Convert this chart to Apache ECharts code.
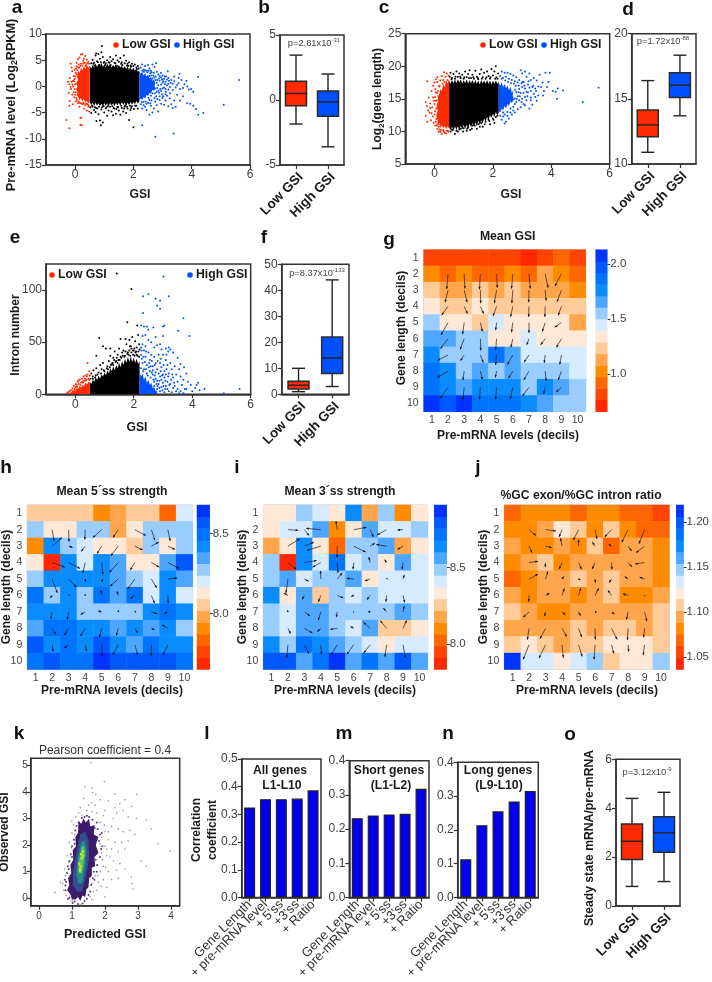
<!DOCTYPE html>
<html><head><meta charset="utf-8">
<style>html,body{margin:0;padding:0;background:#fff}#c{width:712px;height:982px}</style>
<script src="https://cdn.jsdelivr.net/npm/echarts@6/dist/echarts.min.js"></script></head>
<body><div id="c"></div>
<script>
// ---------- DATA ----------
const groups=['Low GSI','High GSI'];
const bLow=[-1.85,-0.45,0.5,1.45,3.45], bHigh=[-3.6,-1.25,-0.15,0.7,2.0];
const dLow=[10.9,12.1,13.0,14.15,16.4], dHigh=[13.7,15.1,16.05,17.0,18.35];
const fLow=[1,2,3.5,5,10], fHigh=[3,8,14,22,44];
const oLow=[0.8,1.9,2.65,3.35,4.4], oHigh=[1.0,2.2,3.0,3.65,4.65];
const models=['Gene Length','+ pre-mRNA level','+ 5\'ss','+3\'ss','+ Ratio'];
const lVals=[0.325,0.355,0.355,0.357,0.387];
const mVals=[0.232,0.24,0.243,0.245,0.318];
const nVals=[0.113,0.214,0.255,0.284,0.315];
const decils=['1','2','3','4','5','6','7','8','9','10'];
const palette=['#ff2800','#ff4400','#ff6600','#ff8c00','#ffa64d','#ffcb99','#ffe8d6','#d6ebff','#99ccff','#4da6ff','#0a8cff','#0073ff','#0059ff','#0033ff'];

// heatmap colour bins, rows = gene length decile, cols = pre-mRNA decile
const gCells=[[1,1,1,1,1,1,0,1,2,1],[3,2,3,2,2,3,2,4,3,2],[5,4,4,5,4,5,4,4,4,3],[6,5,5,6,5,5,5,5,5,5],[8,6,6,5,7,6,6,6,6,4],[9,9,8,8,6,6,7,6,6,6],[10,8,8,8,11,9,7,7,7,7],[11,10,8,9,8,9,8,8,8,7],[11,10,9,10,10,10,8,10,9,8],[13,12,13,11,11,11,10,9,8,8]];
const hCells=[[5,5,5,5,3,4,5,5,2,7],[8,6,6,8,8,4,6,8,8,8],[3,10,8,7,6,6,5,8,6,8],[6,0,10,7,10,9,6,6,9,12],[8,10,10,10,10,9,8,7,10,9],[11,8,10,8,11,9,11,7,10,7],[10,10,10,8,8,8,8,10,11,10],[9,11,11,10,10,9,10,9,10,8],[12,10,11,10,12,10,9,11,10,10],[11,12,11,11,13,12,12,12,12,11]];
const iCells=[[6,6,8,7,6,10,4,8,3,6],[6,7,7,9,3,6,9,7,7,8],[4,6,10,6,2,8,8,9,4,6],[8,0,10,7,11,7,8,6,9,7],[8,9,7,8,8,9,6,7,7,7],[10,6,9,5,8,7,8,7,7,7],[8,7,9,9,8,8,8,8,9,8],[8,7,9,9,8,7,9,5,5,6],[10,8,11,10,9,8,7,6,7,7],[12,12,9,11,13,9,11,9,12,9]];
const jCells=[[2,3,3,3,2,3,3,2,2,1],[3,3,4,6,5,3,5,3,2,2],[4,3,3,4,3,5,2,4,4,3],[3,4,5,3,4,4,4,4,4,3],[2,3,4,4,5,4,5,4,4,3],[4,3,4,4,3,4,5,3,3,4],[5,4,3,3,4,4,4,4,4,5],[4,4,4,4,5,4,5,5,4,5],[5,6,5,4,5,5,6,6,6,5],[13,7,7,6,7,8,5,6,6,8]];

// arrows: rows 2-9, cols 2-9, [dx,dy] in cell units from the cell centre
const gArrows=[
[-.08,.93,.04,.9,-.06,.95,.04,.85,-.08,.9,.08,.9,.18,.85,-.4,.75],
[-.18,.75,.18,.75,.02,.8,-.14,.8,-.06,.8,-.02,.75,.06,.65,-.27,.72],
[-.4,.55,.2,.45,.2,.45,-.22,.6,-.14,.65,-.02,.65,-.02,.65,-.2,.55],
[-.43,.76,-.1,.72,.12,.55,-.06,.47,-.08,.6,0,.64,-.18,.55,-.41,.29],
[-.47,.62,-.25,.66,.02,.72,-.06,.7,-.12,.53,-.14,.37,-.29,.37,-.31,.53],
[-.64,.33,-.23,.35,.18,.47,-.06,.62,-.33,.58,-.31,.45,-.06,.49,-.1,.58],
[-.66,.39,-.08,.55,.12,.51,-.08,.39,-.27,.43,-.33,.55,.06,.6,-.2,.55],
[-.49,.68,-.08,.78,-.06,.74,-.06,.74,-.16,.72,-.41,.53,-.1,.41,-.33,.29]];
const hArrows=[
[.12,.69,.02,.73,-.02,.6,-.54,.48,-.32,.48,.67,.36,.22,.65,.14,.69],
[.6,-.52,.24,.08,-.24,.32,-.28,.46,-.46,.6,.48,.24,.44,-.24,.42,.2],
[.77,.28,.69,.36,-.14,.65,.06,.73,-.54,.6,-.28,.46,.48,.28,.69,.36],
[.32,.85,.48,.5,.02,.18,.06,.2,-.5,.44,-.44,.62,.32,.54,.56,-.06],
[-.12,.16,.04,-.04,0,-.08,-.06,-.34,-.08,-.26,-.28,.18,.2,.48,.02,.48],
[-.08,.44,-.08,.48,-.28,.16,-.22,-.06,.02,-.1,.08,-.02,.36,.12,-.22,.1],
[.22,.36,-.26,.42,-.3,.48,-.14,.56,-.12,.44,.18,.28,.2,.08,-.36,-.22],
[.06,.4,-.28,.2,.08,.4,.02,.67,-.34,.62,.18,.62,-.02,.67,-.3,.62]];
const iArrows=[
[.63,.04,.28,.36,-.89,-.08,-.08,-.53,.77,-.14,.2,.45,-.57,.32,-.34,.02],
[.73,-.45,.57,-.24,-.85,.26,-.02,.69,.73,.36,.28,-.18,-.63,-.1,-.34,.2],
[.51,.41,.75,-.12,-.51,.28,.04,.63,-.04,.41,-.08,-.34,-.12,-.18,-.06,.41],
[-.12,.85,.26,.14,-.02,-.5,.3,-.37,-.43,-.04,-.32,.12,.04,-.04,.08,-.26],
[-.24,-.14,-.14,.24,-.16,.39,.37,.16,-.16,.06,-.2,.26,-.04,.39,.1,.43],
[-.04,-.1,.34,.24,-.16,.51,-.06,.32,-.04,.02,-.14,-.02,-.2,-.24,.08,-.37],
[.16,.32,.49,.28,-.22,.2,-.43,.06,-.2,-.12,-.41,-.37,-.39,-.47,.22,-.49],
[-.08,.79,.28,.55,.04,.59,-.39,.63,-.43,.59,-.39,.49,-.1,.73,.14,.79]];
const jArrows=[
[.42,.36,.63,.08,-.18,.44,-.32,.65,.12,.57,-.42,.44,-.38,.77,-.34,.85],
[.18,.4,.38,.1,-.1,-.48,0,-.4,-.16,-.24,-.18,-.12,.22,.3,-.52,.4],
[.55,-.08,-.02,.28,-.18,.4,.18,.4,-.18,.4,.02,.42,.24,.26,-.57,.08],
[.55,-.3,.14,-.46,.1,-.16,.12,.04,.02,.22,-.14,.22,-.2,-.16,-.3,-.12],
[-.02,.38,.24,-.14,.14,-.42,.14,-.46,.22,-.44,-.22,-.32,-.32,-.1,.02,.04],
[-.36,.32,-.06,.26,.2,.18,.12,.24,.1,.02,.18,.14,-.1,.48,.14,.57],
[-.1,.69,-.34,.63,.28,.5,.2,.53,.02,.67,.34,.67,-.04,.71,-.06,.55],
[-.36,.89,-.4,.81,.08,.79,.22,.71,-.06,.89,.14,.53,.04,.42,-.08,.63]];

// scatter a: dense cores (outlines) and individually read sparse points
const aRedCore=[[.5,4],[.45,3.5],[.4,4.1],[.35,3.3],[.3,3.9],[.25,3.1],[.2,3.5],[.15,2.6],[.1,2.9],[.06,1.8],[.1,1.2],[.03,.6],[.08,0],[.03,-.6],[.09,-1.1],[.05,-1.7],[.12,-2.1],[.15,-2.7],[.2,-2.2],[.25,-2.9],[.3,-2.5],[.35,-3.1],[.4,-2.7],[.45,-3.3],[.5,-2.9]];
const aBlackCore=[[.5,3.9],[.55,3.4],[.6,4.1],[.65,3.6],[.7,4.4],[.75,3.7],[.8,4.3],[.85,3.8],[.9,4.5],[.95,3.7],[1,4.2],[1.05,3.6],[1.1,4.4],[1.15,3.8],[1.2,4.3],[1.25,3.6],[1.3,4.1],[1.35,3.7],[1.4,4.3],[1.45,3.5],[1.5,4.1],[1.55,3.6],[1.6,4],[1.65,3.4],[1.7,3.9],[1.75,3.3],[1.8,3.8],[1.85,3.2],[1.9,3.7],[1.95,3.1],[2,3.6],[2.05,3],[2.1,3.4],[2.15,2.8],[2.2,3.1],[2.2,-2.9],[2.15,-3.3],[2.1,-2.8],[2.05,-3.4],[2,-3],[1.95,-3.5],[1.9,-3],[1.85,-3.6],[1.8,-3.1],[1.75,-3.7],[1.7,-3.1],[1.65,-3.5],[1.6,-3],[1.55,-3.7],[1.5,-3.1],[1.45,-3.6],[1.4,-3.1],[1.35,-3.8],[1.3,-3.2],[1.25,-3.7],[1.2,-3.1],[1.15,-3.9],[1.1,-3.2],[1.05,-3.7],[1,-3.2],[.95,-3.9],[.9,-3.3],[.85,-3.8],[.8,-3.2],[.75,-3.7],[.7,-3.1],[.65,-3.8],[.6,-3.1],[.55,-3.6],[.5,-3]];
const aBlueCore=[[2.2,2.9],[2.25,2.4],[2.3,2.8],[2.35,2.1],[2.4,2.5],[2.45,1.9],[2.5,2.2],[2.55,1.6],[2.6,1.8],[2.65,1.1],[2.7,1.3],[2.75,.6],[2.72,.1],[2.78,-.4],[2.7,-.8],[2.65,-.7],[2.6,-1.4],[2.55,-1.2],[2.5,-1.9],[2.45,-1.6],[2.4,-2.3],[2.35,-2],[2.3,-2.6],[2.25,-2.3],[2.2,-2.8]];
const aRed=[[.05,4.5],[.1,5.2],[.15,5.5],[.2,6.1],[.25,6.2],[.3,5.3],[.35,5.8],[.28,4.9],[.4,5.1],[.42,4.4],[.12,4.2],[.05,3.8],[-.15,4.3],[-.12,3.6],[-.1,2.9],[-.02,3.2],[.02,2.6],[-.18,1.6],[-.25,.9],[-.2,.4],[-.14,-.5],[-.22,-1.2],[-.07,1.1],[-.1,-1.6],[-.03,-2.1],[.02,-2.9],[-.19,-2.8],[-.2,-3.7],[-.08,-3.4],[.1,-3.2],[.15,-3.9],[.25,-3.4],[.3,-4.2],[.35,-3.6],[.4,-4.6],[.18,-6],[.2,-6],[.18,-7.3],[.23,-7.4],[-.3,-6.4],[-.2,-8],[.45,-3.9],[.48,-4.8],[-.05,2],[-.03,1],[-.06,0],[-.02,-.5],[-.05,-1.1],[0,1.9],[0,-1.6],[.03,3.4],[.08,3.1],[.14,3.6],[.2,4.3],[.25,4],[.33,4.5],[.38,4.1],[.45,4.7],[.06,-2.6],[.12,-2.9],[.2,-3.2],[.3,-3.3],[.42,-3.4],[-.12,.9],[-.16,-.1],[-.09,.3],[0,.4],[-.02,1.4],[.02,-1.1],[.04,-2.2],[.05,2.3],[.1,3.6],[.18,3.9],[.28,4.4],[.36,3.9],[.48,4.3],[.16,-3.1],[.28,-3.1],[.38,-3.3],[.46,-3.6]];
const aBlack=[[.55,4.4],[.6,5.1],[.65,4.5],[.7,5.9],[.72,6.3],[.75,4.8],[.8,6.2],[.85,5.3],[.88,4.6],[.92,7.7],[.95,5.6],[.9,6.5],[1,4.7],[1.05,4.4],[1.1,5],[1.15,4.6],[1.2,5.6],[1.25,4.8],[1.3,5.2],[1.35,4.5],[1.4,5.9],[1.45,5],[1.5,4.7],[1.55,5.4],[1.6,4.6],[1.67,5.9],[1.7,4.4],[1.75,4.9],[1.8,4.3],[1.85,4.6],[1.9,4],[1.95,4.3],[2,3.9],[2.05,4.2],[2.1,3.6],[2.15,3.9],[.52,-4],[.55,-5.1],[.6,-3.9],[.65,-4.5],[.7,-4.9],[.73,-6.6],[.76,-4.2],[.8,-5.3],[.85,-6.5],[.88,-7.4],[.9,-4.4],[.95,-6.9],[1,-5],[1.05,-4.2],[1.1,-5.6],[1.15,-4.6],[1.2,-3.9],[1.25,-4.8],[1.3,-5.5],[1.35,-4.2],[1.4,-5.2],[1.45,-3.9],[1.5,-4.6],[1.55,-5.4],[1.6,-4.1],[1.65,-4.8],[1.7,-3.9],[1.75,-5.1],[1.8,-4.2],[1.85,-6.4],[1.9,-4.5],[1.95,-3.8],[2,-7.8],[2.02,-4.3],[2.1,-3.7],[2.15,-4.2],[.58,-3.7],[.68,-4],[.82,-3.9],[.98,-3.8],[1.12,-3.8],[1.28,-3.8],[1.42,-4.3],[1.58,-3.7],[1.72,-3.6],[1.88,-3.7],[.62,4.3],[.78,4.6],[.98,4.5],[1.18,4.5],[1.38,4.4],[1.58,4.3],[1.78,4],[1.92,3.8],[2.12,3.3],[2.18,3.4],[.66,4],[.83,4.1],[1.03,4.1],[1.22,4.1],[1.44,3.9],[1.62,4.1],[1.82,3.9],[.72,-4.1],[.92,-4],[1.08,-4],[1.32,-4.1],[1.48,-4],[1.68,-4.2],[1.78,-3.9],[1.92,-4.1],[2.06,-3.7]];
const aBlue=[[2.25,3.6],[2.3,4.2],[2.35,3.2],[2.4,3.9],[2.45,3],[2.5,4.1],[2.55,3.4],[2.6,3],[2.65,4.2],[2.72,3.7],[2.78,4.4],[2.7,2.6],[2.8,2.8],[2.85,2.3],[2.9,2],[2.95,1.7],[3,2.1],[3.05,1.4],[3.18,2.9],[3.2,1.6],[3.1,.9],[3.15,.2],[3,.7],[2.9,1.1],[2.95,.3],[3.05,-.2],[3.2,-.6],[3.3,1.2],[3.35,.5],[3.4,1.9],[3.45,-.2],[3.58,2.4],[3.55,.6],[3.65,1.2],[3.7,-.3],[3.75,.4],[3.82,1.1],[3.9,-.6],[3.98,-.5],[3.85,0],[4.22,1.8],[4.05,-1],[2.25,-3.4],[2.3,-4.2],[2.35,-3],[2.4,-3.9],[2.45,-4.5],[2.5,-3.1],[2.55,-5.4],[2.6,-3.7],[2.65,-5],[2.7,-4.2],[2.75,-2.9],[2.8,-3.6],[2.85,-4.8],[2.9,-2.6],[2.95,-3.3],[3,-2.2],[3.05,-3.5],[3.1,-2.7],[3.15,-1.8],[3.2,-3.8],[3.25,-2.3],[3.3,-3.4],[3.35,-4.1],[3.4,-2.7],[3.45,-3.9],[3.5,-1.6],[3.6,-2.7],[3.7,-1.9],[3.85,-3.2],[3.95,-3.3],[4.05,-3.7],[4.15,-4.3],[4.22,-5.4],[4.4,-5.1],[5.1,-3.5],[5.62,1.2],[2.3,-7.4],[2.75,-9.6],[3.38,-9],[2.88,-1.2],[2.92,-.5],[2.98,-1.5],[3.02,1],[3.08,.4],[2.88,1.5],[2.78,-1.9],[2.82,-2.4],[2.72,-2.2],[2.62,-2.7],[2.55,-2.6],[2.42,-2.9],[2.48,2.7],[2.58,2.5],[2.68,2.1],[2.76,1.9],[3.12,-1],[3.25,-.1],[3.28,.7],[3.12,1.9],[2.3,3],[2.36,2.8],[2.8,.7],[2.82,1.2],[2.85,.2],[2.82,-.3],[2.86,-.8],[2.8,-1],[2.74,-1.3],[2.76,1.2],[2.72,1.7],[2.65,1.5],[2.62,2.1],[2.55,2],[2.65,-1.3],[2.6,-1.8],[2.52,-2.2],[2.95,-.9],[3,-.4],[3.1,-.5],[3.02,-1.9],[3.2,.5],[3.22,1.1],[2.98,1.3],[3.08,1.9],[3.15,1.3],[2.94,2.6],[2.9,-1.9],[3.1,-1.5],[3.25,-1.3],[3.35,-.7],[3.4,1],[3.5,.2],[3.6,-.5],[3.55,1.6],[2.45,-3.3],[2.58,-3.2],[2.35,-3.6],[2.28,-3],[2.4,3.1],[2.52,3],[2.62,2.7]];

const cRedCore=[[.5,18],[.45,17.4],[.4,17.8],[.35,16.8],[.3,17.2],[.25,16.2],[.2,16.5],[.15,15.5],[.1,15.6],[.13,14.7],[.07,14],[.11,13.2],[.06,12.5],[.1,11.8],[.12,11],[.17,11.3],[.2,10.5],[.25,11],[.3,10.4],[.35,10.9],[.4,10.3],[.45,10.8],[.5,10.4]];
const cBlackCore=[[.5,17.8],[.55,17.3],[.6,17.9],[.65,17.4],[.7,18],[.75,17.4],[.8,18],[.85,17.5],[.9,18],[.95,17.3],[1,17.9],[1.05,17.4],[1.1,18],[1.15,17.3],[1.2,17.9],[1.25,17.4],[1.3,17.9],[1.35,17.3],[1.4,17.9],[1.45,17.3],[1.5,17.8],[1.55,17.2],[1.6,17.9],[1.65,17.4],[1.7,17.8],[1.75,17.3],[1.8,17.9],[1.85,17.3],[1.9,17.8],[1.95,17.2],[2,17.8],[2.05,17.3],[2.1,17.8],[2.15,17.3],[2.2,17.6],[2.2,12.9],[2.15,12.5],[2.1,13],[2.05,12.2],[2,12.7],[1.95,12.1],[1.9,12.5],[1.85,11.7],[1.8,12.2],[1.75,11.5],[1.7,12],[1.65,11.2],[1.6,11.7],[1.55,11],[1.5,11.6],[1.45,10.8],[1.4,11.4],[1.35,10.7],[1.3,11.3],[1.25,10.6],[1.2,11.2],[1.15,10.4],[1.1,11],[1.05,10.4],[1,11],[.95,10.3],[.9,10.9],[.85,10.2],[.8,10.8],[.75,10.2],[.7,10.8],[.65,10.1],[.6,10.7],[.55,10.2],[.5,10.6]];
const cBlueCore=[[2.2,17.5],[2.25,17],[2.3,17.5],[2.35,16.8],[2.4,17.3],[2.45,16.6],[2.5,17.1],[2.55,16.3],[2.6,16.9],[2.65,15.9],[2.7,16.4],[2.68,15.5],[2.72,14.9],[2.65,14.4],[2.6,14.6],[2.55,13.9],[2.5,14.2],[2.45,13.5],[2.4,13.9],[2.35,13.2],[2.3,13.5],[2.25,12.9],[2.2,13.1]];
const cRed=[[-.25,17.7],[-.1,16.2],[-.05,17],[0,17.5],[.03,16.5],[.05,18],[.1,17.6],[.1,18.3],[.15,16.9],[.2,17.8],[.25,18.5],[.3,17.9],[.33,19.1],[.38,18.4],[.42,18.9],[.45,17.9],[.48,18.6],[-.3,14.5],[-.25,13.9],[-.22,13.2],[-.2,15.2],[-.17,12.9],[-.15,14.3],[-.12,11.7],[-.1,12.8],[-.08,13.7],[-.05,15.2],[-.03,11.3],[0,12.6],[0,14.2],[.02,15.3],[.03,10.9],[.06,11.9],[.06,13.5],[.08,15.9],[.1,10.4],[.12,11.1],[.14,10],[.18,10.3],[.2,9.9],[.25,9.6],[.3,10.2],[.35,9.8],[.4,9.7],[.45,10.1],[.05,14.7],[-.15,13.6],[-.3,12.4],[-.25,11.5],[.04,16],[.08,14.8],[.02,13.1],[-.02,14.7],[-.06,12.3],[.12,16.2],[.18,17],[.28,17.3],[.35,17.6],[.04,11.5],[.08,10.9],[.15,10.7],[.22,10.2],[.32,10],[.42,10.1],[.48,10]];
const cBlack=[[.52,18.4],[.55,19],[.6,18.2],[.65,18.8],[.7,18.1],[.75,19.2],[.8,18.4],[.85,18.9],[.9,18.2],[.95,18.7],[1,18.1],[1.05,19.2],[1.1,18.3],[1.15,18.8],[1.2,19.4],[1.25,18.2],[1.3,18.7],[1.35,18.1],[1.4,19.3],[1.45,18.4],[1.5,18],[1.55,18.8],[1.6,19.5],[1.65,18.3],[1.7,19],[1.75,18.1],[1.8,19.2],[1.85,18.5],[1.9,18.1],[1.95,19.6],[2,18.6],[2.05,19.2],[2.1,20],[2.12,18.3],[2.18,18.9],[.55,10],[.62,10.2],[.7,9.6],[.75,10.1],[.85,10.3],[.9,10.4],[1,10.5],[1.1,10.1],[1.15,10.6],[1.22,10.2],[1.3,10.9],[1.45,10.4],[1.5,11.1],[1.6,11.3],[1.65,10.7],[1.75,11.5],[1.85,11.8],[1.9,11.1],[2,12],[2.05,11.3],[2.1,12.2],[2.15,12.4],[.58,18],[.72,18.4],[.88,18.4],[1.02,18.3],[1.18,18.2],[1.33,18.3],[1.48,18.2],[1.62,18.1],[1.78,18.3],[1.92,18.3],[2.08,18.1],[2.16,18.1],[.6,10.3],[.8,10],[.98,10],[1.12,10.4],[1.28,10.4],[1.38,10.9],[1.55,10.7],[1.72,11.1],[1.88,11.6],[2.02,11.8]];
const cBlue=[[2.25,18.5],[2.3,19.2],[2.35,18.2],[2.4,19],[2.45,18.4],[2.5,19],[2.55,18.1],[2.6,18.8],[2.65,17.9],[2.7,18.6],[2.75,17.7],[2.8,18.3],[2.85,17.5],[2.9,17.9],[2.95,19.4],[3,18.9],[3.05,17.6],[3.1,19.2],[3.15,18.4],[3.2,17.2],[3.25,18.9],[3.3,17.9],[3.35,16.8],[3.4,18.2],[3.45,16.6],[3.5,17.8],[3.55,16.9],[3.6,18.7],[3.7,17.5],[3.75,16.2],[3.8,19],[3.85,16.8],[3.9,17.6],[3.95,19],[4.05,16.2],[4.15,16.1],[4.2,15],[4.22,16.6],[4.4,16.3],[5.08,14.5],[5.62,16.7],[2.25,12.4],[2.3,11.8],[2.35,12.9],[2.4,11.2],[2.45,11.5],[2.5,13],[2.55,12],[2.6,13.5],[2.65,12.6],[2.7,13.8],[2.75,12.9],[2.8,14.5],[2.85,13.4],[2.9,14.8],[2.95,13.7],[3,15],[3.05,14.2],[3.1,15.3],[3.15,14.8],[3.2,16],[3.25,13.5],[3.3,15.2],[3.35,14.1],[3.4,15.8],[3.5,14.7],[3.55,15.5],[2.75,15],[2.8,16],[2.85,15.4],[2.9,16.5],[2.95,15.9],[3,16.8],[3.05,15.9],[3.1,16.6],[3.15,16.1],[3.25,16.7],[3.3,16.2],[2.78,17],[2.88,17],[2.98,17.4],[3.45,15.3],[3.65,16.8],[3.72,15.5],[2.76,16.4],[2.82,15],[2.75,14.2],[2.88,16],[2.92,15.4],[2.72,17.3],[2.62,17.4],[2.52,17.6],[2.42,17.8],[2.3,18.1],[2.7,13.2],[2.6,12.9],[2.5,12.4],[2.4,12.6],[2.35,12.3],[2.98,14.5],[3.1,14],[3.18,15.4],[3.3,14.8],[3.02,17.6],[3.08,17],[3.22,17.7],[3.38,17],[3.48,16.2]];

const eRedCore=[[-.3,.8],[-.2,1],[-.15,2],[-.1,2],[-.05,4],[0,3.5],[.05,6],[.1,5],[.15,8],[.2,6.5],[.25,9],[.3,8],[.35,11],[.4,9.5],[.45,12],[.5,11],[.5,0],[-.3,0]];
const eBlackCore=[[.5,12],[.55,10],[.6,14],[.65,12],[.7,16],[.75,14],[.8,18],[.85,15],[.9,19],[.95,17],[1,21],[1.05,18],[1.1,23],[1.15,20],[1.2,25],[1.25,22],[1.3,27],[1.35,23],[1.4,28],[1.45,25],[1.5,30],[1.55,26],[1.6,32],[1.65,28],[1.7,34],[1.75,30],[1.8,36],[1.85,31],[1.9,36],[1.95,31],[2,35],[2.05,30],[2.1,34],[2.15,29],[2.2,32],[2.2,0],[.5,0]];
const eBlueCore=[[2.2,22],[2.25,17],[2.3,20],[2.35,14],[2.4,17],[2.45,11],[2.5,14],[2.55,9],[2.6,11],[2.65,6],[2.7,7],[2.75,3],[2.8,4],[2.8,0],[2.2,0]];
const eRed=[[-.2,3],[-.15,4],[-.1,5.5],[-.05,8],[0,7],[.02,10],[.05,9],[.08,12],[.1,13],[.12,10],[.15,14],[.2,11],[.23,15],[.25,12],[.28,17],[.3,13],[.33,15],[.35,18],[.38,14],[.4,17],[.42,30],[.42,19],[.45,15],[.48,22],[.5,18],[-.25,2],[-.28,1],[.18,9],[.27,11],[.37,13],[.47,14],[.06,7],[-.02,5],[-.08,3]];
const eBlack=[[.52,15],[.55,20],[.6,17],[.62,23],[.7,18],[.72,25],[.8,21],[.85,28],[.9,24],[.95,30],[.72,37],[.82,54],[.95,46],[1,22],[1.05,44],[1.1,27],[1.15,32],[1.2,37],[1.2,44],[1.25,29],[1.3,35],[1.35,41],[1.4,32],[1.45,38],[1.5,44],[1.55,36],[1.6,40],[1.65,42],[1.7,37],[1.75,48],[1.8,40],[1.85,42],[1.85,52],[1.9,46],[1.95,55],[2,42],[2.05,51],[2.1,45],[2.15,57],[2.18,48],[1.42,116],[1.92,101],[1.78,69],[2.12,66],[1.55,53],[1.72,53],[1.82,38],[1.98,38],[2.1,38],[1.3,28],[1.45,30],[.6,15],[.68,16],[.76,19],[.88,20],[.98,23],[1.08,25],[1.18,26],[1.28,30],[1.38,31],[1.48,33],[1.58,35],[1.68,36],[1.78,39],[1.88,37],[1.92,40],[1.97,42],[2.03,37],[2.08,41],[2.13,37],[2.18,36],[2.16,41],[2.02,44],[1.72,41],[1.62,37],[1.52,33],[1.42,35],[1.12,24],[1.22,28],[1.33,33],[1.92,44],[2.06,40],[1.87,46],[2.2,43]];
const eBlue=[[2.25,66],[2.35,65],[2.45,65],[2.67,64],[2.3,56],[2.4,57],[2.5,62],[2.3,48],[2.4,46],[2.5,52],[2.6,50],[2.7,45],[2.75,55],[2.8,47],[2.9,48],[3,56],[3.05,66],[3,65],[2.95,43],[3.1,44],[3.2,45],[3.25,43],[3.35,40],[3.5,35],[3.52,61],[3.7,73],[3.9,56],[3.72,26],[3.6,29],[2.32,94],[2.5,96],[2.75,92],[2.9,90],[3.02,113],[3.2,94],[2.32,78],[2.8,85],[2.9,82],[2.25,45],[2.25,38],[2.3,30],[2.35,42],[2.4,36],[2.45,28],[2.5,40],[2.55,33],[2.6,38],[2.65,27],[2.7,36],[2.75,30],[2.8,24],[2.85,38],[2.9,30],[2.95,26],[3,38],[3.05,22],[3.1,33],[3.15,28],[3.2,20],[3.25,30],[3.3,24],[3.35,16],[3.4,27],[3.45,19],[3.5,12],[3.55,24],[3.6,17],[3.65,9],[3.7,14],[3.75,5],[3.8,20],[3.85,12],[3.95,9],[4,3],[4.1,6],[4.2,11],[4.15,9],[4.25,4],[4.42,5],[5.08,1],[5.62,5],[2.35,24],[2.45,20],[2.55,22],[2.65,19],[2.75,15],[2.85,20],[2.95,14],[3.05,16],[3.15,12],[3.25,10],[3.35,6],[3.45,3],[2.7,8],[2.8,5],[2.85,10],[2.9,3],[2.95,7],[3,11],[3.05,2],[3.1,8],[3.15,5],[3.2,3],[3.3,2],[3.4,8],[3.5,5],[3.6,3],[3.7,1],[3.55,1],[3.8,5],[2.7,12],[2.8,13],[3,19],[2.9,17],[3.1,19],[2.65,23],[2.75,21],[2.58,27],[2.52,26],[2.25,25],[2.28,34],[2.32,22],[2.38,31],[2.42,24],[2.48,18],[2.53,30],[2.58,16],[2.62,21],[2.68,14],[2.72,18],[2.78,10],[2.82,8],[2.88,13],[2.92,22],[2.97,18],[3.02,8],[3.08,13],[3.12,24],[3.18,17],[3.22,9],[3.28,14],[3.32,19],[3.38,11],[2.88,6],[2.98,4],[3.08,5],[2.72,28],[2.82,32],[2.62,32],[2.92,34],[3.02,28],[3.12,38],[3.18,41],[2.42,41],[2.27,42],[2.33,36]];

// k: density contours and sparse points (predicted, observed)
const kOuter=[[1.1,-.05],[1.18,.05],[1.25,-.1],[1.32,.1],[1.4,.05],[1.44,.35],[1.5,.4],[1.52,.75],[1.6,.85],[1.6,1.15],[1.7,1.2],[1.68,1.55],[1.8,1.7],[1.72,2],[1.8,2.3],[1.66,2.4],[1.68,2.75],[1.55,2.7],[1.52,3],[1.42,2.85],[1.35,3],[1.28,2.8],[1.2,2.9],[1.18,2.45],[1.1,2.3],[1.12,1.95],[1.02,1.8],[1.04,1.45],[.95,1.25],[.98,.95],[.88,.75],[.92,.5],[.85,.3],[.95,.15],[1,-.05]];
const kMid=[[1.15,.25],[1.3,.25],[1.42,.8],[1.52,1.5],[1.5,2.2],[1.4,2.5],[1.25,2.4],[1.13,1.7],[1.03,1],[1.03,.5]];
const kTeal=[[1.2,.55],[1.3,.55],[1.4,1.2],[1.44,1.8],[1.38,2.15],[1.28,2.1],[1.18,1.5],[1.13,.9]];
const kGreen=[[1.23,.95],[1.3,.95],[1.38,1.6],[1.38,1.95],[1.3,1.95],[1.22,1.45],[1.19,1.1]];
const kPeak=[[1.25,1.1],[1.22,1.3],[1.3,1.5],[1.33,1.75],[1.28,1.65],[1.26,1.2],[1.24,1.02],[1.34,1.6]];
const kSparse=[[1.57,5.1],[1.98,4.39],[1.39,4.2],[1.6,4.14],[1.62,3.97],[2.3,3.92],[2.96,3.91],[1.85,3.7],[2.1,3.65],[2.6,3.7],[2.45,3.55],[2.8,3.45],[2.3,3.4],[2.55,3.3],[2,3.3],[1.7,3.5],[1.5,3.5],[1.25,3.4],[1.2,3.2],[1,2.9],[1.05,2.75],[1.95,3.1],[2.25,3],[2.35,3.2],[2.7,3.05],[2.95,3],[3.25,2.95],[3.4,2.6],[3.6,2.05],[3.97,1.78],[3.1,1.4],[3.25,1.2],[2.9,2.4],[2.75,2.55],[2.55,2.5],[2.4,2.6],[2.2,2.7],[2,2.5],[1.9,2.3],[2.1,2.2],[2.3,2.1],[2.5,2.1],[2.7,2.15],[2.6,1.85],[2.4,1.75],[2.2,1.85],[2.05,1.6],[2,1.95],[1.9,1.7],[2.25,1.4],[2.45,1.3],[2.35,1.05],[2.6,1.1],[2.1,1],[1.95,1.2],[1.85,1],[2.2,.7],[1.95,.7],[1.8,.6],[1.75,.3],[2.05,.4],[2.8,.8],[2.82,.55],[2.85,.35],[2.4,.75],[2,.05],[1.6,-.05],[1.4,-.3],[1.25,-.25],[1,-.1],[.75,.3],[.65,.6],[.48,.22],[.8,.85],[.9,1.35],[.98,1.9],[1.08,2.4],[1.72,2.6],[1.85,2.05],[1.7,.85],[1.6,.55],[1.45,3.3],[1.6,3.25],[1.75,3.2],[1.3,3.1],[1.85,2.85],[1.98,2.75],[2.1,2.5],[2.05,1.85],[2.15,1.55],[1.92,1.45],[2.02,1.15],[1.78,.85],[1.88,.45],[1.65,.25],[1.55,.05],[1.15,-.3],[.82,.1],[.72,.55],[.78,1.1],[.85,1.6],[.92,2.1],[1,2.45],[1.12,3.05],[1.6,3.6],[1.35,3.75],[1.72,3.9]];
const kEdge=[[1.55,.85],[1.72,1.45],[1.85,1.55],[1.82,2.15],[1.68,2.65],[1.52,3.05],[1.38,3.05],[1.2,2.85],[1.1,2.55],[1,1.95],[.92,1.4],[.85,.95],[.8,.3],[.88,-.02],[1.02,-.18],[1.18,-.22],[1.32,-.2],[1.45,-.02],[1.55,.25],[1.63,.75],[1.58,.5],[1.66,1],[1.76,1.25],[1.88,1.85],[1.9,2.45],[1.78,2.6],[1.75,2.85],[1.62,2.95],[1.45,3.1],[1.3,3.02],[1.14,2.72],[1.06,2.2],[1,1.55],[.9,1.1],[.82,.62],[.8,.48],[.92,.02],[1.08,-.12],[1.38,-.1],[1.5,.12],[1.68,.7],[1.75,1],[1.92,1.95],[1.85,2.4],[1.08,2.05],[.96,1.65],[.87,1.2],[.78,.7]];

// ---------- CHART HELPERS ----------
const FF='"Liberation Sans",Arial,sans-serif';
const DARK='#333', TICK='#3d3d3d';
const RED='#ff2a00', BLUE='#0050ff';
const grids=[],xAxes=[],yAxes=[],series=[],graphics=[],heatIdx=[];

function box(l,t,r,b,extra){
  const i=grids.length;
  grids.push(Object.assign({left:l,top:t,width:r-l,height:b-t,show:true,borderColor:DARK,borderWidth:1.5,containLabel:false},extra||{}));
  return i;
}
function valAxis(g,o){
  return Object.assign({type:'value',gridIndex:g,scale:true,splitLine:{show:false},
    axisLine:{show:true,onZero:false,lineStyle:{color:DARK,width:1.5}},
    axisTick:{show:true,length:4,lineStyle:{color:DARK,width:1.2}},
    axisLabel:{color:TICK,fontFamily:FF,fontSize:12,margin:4}},o);
}
function ticks(a,vals,fmt){
  a.axisTick=Object.assign({},a.axisTick,{customValues:vals});
  a.axisLabel=Object.assign({},a.axisLabel,{customValues:vals});
  if(fmt)a.axisLabel.formatter=fmt;
  return a;
}
function pushAxes(xa,ya){xAxes.push(xa);yAxes.push(ya);return [xAxes.length-1,yAxes.length-1];}

function polygonSeries(ix,outline,fill,op){
  series.push({type:'custom',coordinateSystem:'cartesian2d',xAxisIndex:ix[0],yAxisIndex:ix[1],silent:true,clip:true,
    data:outline,encode:{x:0,y:1},
    renderItem:(p,api)=>{
      if(p.dataIndex!==0)return null;
      return {type:'polygon',shape:{points:outline.map(q=>api.coord(q))},style:{fill:fill,opacity:op==null?1:op}};
    }});
}
function pts(ix,data,color,size,op){
  series.push({type:'scatter',xAxisIndex:ix[0],yAxisIndex:ix[1],data:data,symbol:'circle',symbolSize:size||2,silent:true,
    itemStyle:{color:color,opacity:op==null?1:op}});
}
function gsiPanel(l,t,r,b,ymin,ymax,yt,cores,sets){
  const g=box(l,t,r,b);
  const ix=pushAxes(
    ticks(valAxis(g,{min:-1,max:6}),[0,2,4,6]),
    ticks(valAxis(g,{min:ymin,max:ymax}),yt));
  polygonSeries(ix,cores[1],'#000');
  polygonSeries(ix,cores[0],RED);
  polygonSeries(ix,cores[2],BLUE);
  pts(ix,sets[1],'#000');pts(ix,sets[0],RED);pts(ix,sets[2],BLUE);
}
function catAxisBox(g){
  return {type:'category',gridIndex:g,data:groups,
    axisLine:{show:true,onZero:false,lineStyle:{color:DARK,width:1.5}},
    axisTick:{show:true,length:4,alignWithLabel:true,lineStyle:{color:DARK,width:1.2}},
    axisLabel:{rotate:45,interval:0,color:'#1a1a1a',fontFamily:FF,fontWeight:'bold',fontSize:13.5,margin:5,verticalAlign:'top'}};
}
function boxPanel(l,t,r,b,ymin,ymax,yt,low,high){
  const g=box(l,t,r,b);
  const ix=pushAxes(catAxisBox(g),ticks(valAxis(g,{min:ymin,max:ymax}),yt));
  const cols=[RED,BLUE];
  series.push({type:'custom',coordinateSystem:'cartesian2d',xAxisIndex:ix[0],yAxisIndex:ix[1],silent:true,
    data:[[0,...low],[1,...high]],encode:{x:0,y:[1,2,3,4,5]},
    renderItem:(p,api)=>{
      const c=api.value(0);
      const P=k=>api.coord([c,api.value(k)]);
      const a=P(1),q1=P(2),m=P(3),q3=P(4),z=P(5),x=a[0],w=10.5,cw=6.5;
      const st={stroke:'#222',lineWidth:1.4};
      const ln=(x1,y1,x2,y2)=>({type:'line',shape:{x1,y1,x2,y2},style:st});
      return {type:'group',children:[
        ln(x,a[1],x,z[1]),ln(x-cw,a[1],x+cw,a[1]),ln(x-cw,z[1],x+cw,z[1]),
        {type:'rect',shape:{x:x-w,y:q3[1],width:2*w,height:q1[1]-q3[1]},style:{fill:cols[p.dataIndex],stroke:'#2b2b2b',lineWidth:1.5}},
        ln(x-w,m[1],x+w,m[1])]};
    }});
}
function barPanel(l,t,r,b,ymax,vals){
  const g=box(l,t,r,b);
  const ys=[];for(let v=0;v<=ymax*10+.01;v++)ys.push(v/10);
  const ix=pushAxes(
    {type:'category',gridIndex:g,data:models,
     axisLine:{show:true,onZero:false,lineStyle:{color:DARK,width:1.5}},
     axisTick:{show:true,length:4,alignWithLabel:true,lineStyle:{color:DARK,width:1.2}},
     axisLabel:{rotate:45,interval:0,color:'#333',fontFamily:FF,fontSize:13,margin:5}},
    ticks(valAxis(g,{min:0,max:ymax}),ys,v=>v.toFixed(1)));
  series.push({type:'bar',xAxisIndex:ix[0],yAxisIndex:ix[1],data:vals,barWidth:11,silent:true,
    itemStyle:{color:'#0000ee',borderColor:'#222',borderWidth:1.2}});
}
function heatPanel(l,t,r,b,cells,arrows,cbL,cbR,cbMin,cbMax,cbTicks,fmt){
  const g=box(l,t,r,b,{borderColor:'#c4c4c4',borderWidth:1});
  const ix=pushAxes(
    {type:'category',gridIndex:g,data:decils,axisLine:{show:false},axisTick:{show:false},splitArea:{show:false},
     axisLabel:{interval:0,color:'#444',fontFamily:FF,fontSize:10.5,margin:3}},
    {type:'category',gridIndex:g,data:decils,inverse:true,axisLine:{show:false},axisTick:{show:false},splitArea:{show:false},
     axisLabel:{interval:0,color:'#444',fontFamily:FF,fontSize:10.5,margin:5}});
  const d=[];cells.forEach((row,r0)=>row.forEach((v,c0)=>d.push([c0,r0,v])));
  heatIdx.push(series.length);
  series.push({type:'heatmap',xAxisIndex:ix[0],yAxisIndex:ix[1],data:d,silent:true,itemStyle:{borderWidth:0}});
  // overlay with numeric cell coordinates for arrows
  const g2=box(l,t,r,b,{show:false});
  const ix2=pushAxes({type:'value',gridIndex:g2,min:.5,max:10.5,show:false},{type:'value',gridIndex:g2,min:.5,max:10.5,inverse:true,show:false});
  const av=[];arrows.forEach((row,r0)=>{for(let c0=0;c0<8;c0++)av.push([c0+2,r0+2,row[2*c0],row[2*c0+1]]);});
  series.push({type:'custom',coordinateSystem:'cartesian2d',xAxisIndex:ix2[0],yAxisIndex:ix2[1],silent:true,clip:false,z:5,
    data:av,encode:{x:0,y:1},
    renderItem:(p,api)=>{
      const c=api.value(0),r0=api.value(1),dx=api.value(2),dy=api.value(3);
      const a=api.coord([c,r0]),e=api.coord([c+dx,r0+dy]);
      const L=Math.hypot(e[0]-a[0],e[1]-a[1])||1,ux=(e[0]-a[0])/L,uy=(e[1]-a[1])/L;
      const hl=Math.min(2.6,L),hw=1.1;
      return {type:'group',children:[
        {type:'line',shape:{x1:a[0],y1:a[1],x2:e[0],y2:e[1]},style:{stroke:'#1c1c1c',lineWidth:.7}},
        {type:'polygon',shape:{points:[[e[0],e[1]],[e[0]-ux*hl-uy*hw,e[1]-uy*hl+ux*hw],[e[0]-ux*hl+uy*hw,e[1]-uy*hl-ux*hw]]},style:{fill:'#111'}}]};
    }});
  // colour bar
  const g3=box(cbL,t,cbR,b,{show:false});
  xAxes.push({type:'category',gridIndex:g3,data:['c'],show:false});
  const cx=xAxes.length-1;
  yAxes.push({type:'category',gridIndex:g3,data:palette.map((_,i)=>i),show:false});
  const cy=yAxes.length-1;
  yAxes.push({type:'value',gridIndex:g3,position:'right',min:cbMin,max:cbMax,scale:true,splitLine:{show:false},axisLine:{show:false},
    axisTick:{show:true,length:3,inside:false,lineStyle:{color:'#333',width:1},customValues:cbTicks},
    axisLabel:{color:'#444',fontFamily:FF,fontSize:11.5,margin:3,customValues:cbTicks,formatter:fmt}});
  heatIdx.push(series.length);
  series.push({type:'heatmap',xAxisIndex:cx,yAxisIndex:cy,data:palette.map((_,i)=>[0,i,i]),silent:true,itemStyle:{borderWidth:0}});
}
function txt(s,x,y,o){
  o=o||{};
  const sz=o.size||12.2;
  graphics.push({type:'text',x:x,y:y,rotation:o.rot||0,silent:true,z:50,style:{
    text:s,rich:o.rich,fill:o.color||'#1a1a1a',
    font:(o.weight||'bold')+' '+sz+'px '+FF,
    fontFamily:FF,fontSize:sz,fontWeight:o.weight||'bold',
    align:o.align||'center',verticalAlign:'middle',textAlign:o.align||'center',textVerticalAlign:'middle'}});
}
function dot(x,y,c){graphics.push({type:'circle',silent:true,z:50,shape:{cx:x,cy:y,r:2.8},style:{fill:c}});}
function pval(base,exp,x,y){
  const c='#444';
  txt('{a|'+base+'}{b|'+exp+'}',x,y,{rich:{
    a:{fontFamily:FF,fontSize:9.3,fill:c,color:c,lineHeight:12},
    b:{fontFamily:FF,fontSize:6,fill:c,color:c,verticalAlign:'top',lineHeight:12}},weight:'normal',size:9.3,color:c});
}
function subName(pre,sub,post,x,y,rot,size){
  const r={fontFamily:FF,fontWeight:'bold',fontSize:size,color:'#1a1a1a',lineHeight:size+3};
  txt('{a|'+pre+'}{s|'+sub+'}{a|'+post+'}',x,y,{rot:rot,size:size,rich:{a:r,s:Object.assign({},r,{fontSize:size-4,verticalAlign:'bottom'})}});
}
const R90=Math.PI/2;

// ---------- PANELS ----------
gsiPanel(46,34,250,165,-15,10,[-15,-10,-5,0,5,10],[aRedCore,aBlackCore,aBlueCore],[aRed,aBlack,aBlue]);
boxPanel(280,35,344,165,-5,5,[-5,0,5],bLow,bHigh);
gsiPanel(405.3,33.7,609.7,164,5,25,[5,10,15,20,25],[cRedCore,cBlackCore,cBlueCore],[cRed,cBlack,cBlue]);
boxPanel(631.7,33.7,696,164,10,20,[10,15,20],dLow,dHigh);
gsiPanel(46,264,250.7,394.3,0,125,[0,50,100],[eRedCore,eBlackCore,eBlueCore],[eRed,eBlack,eBlue]);
boxPanel(281.7,264.3,349,394.3,0,50,[0,10,20,30,40,50],fLow,fHigh);

heatPanel(423.7,249.7,585.7,411.7,gCells,gArrows,595.7,607.3,.656,2.133,[1,1.5,2],v=>v.toFixed(1));
heatPanel(27.3,505,192.7,669.5,hCells,hArrows,197,209.7,7.65,8.68,[8,8.5],v=>v.toFixed(1));
heatPanel(263.3,505,427.7,669.5,iCells,iArrows,434.3,446.7,7.835,8.91,[8,8.5],v=>v.toFixed(1));
heatPanel(504.3,505,669.3,669.5,jCells,jArrows,676.3,689,1.036,1.219,[1.05,1.1,1.15,1.2],v=>v.toFixed(2));

// k
(function(){
  const g=box(30.7,758.3,179.7,905.7);
  const ix=pushAxes(
    ticks(valAxis(g,{min:-.25,max:4.26,axisLabel:{color:TICK,fontFamily:FF,fontSize:10,margin:6}}),[0,1,2,3,4]),
    ticks(valAxis(g,{min:-.28,max:5.26,axisLabel:{color:TICK,fontFamily:FF,fontSize:10,margin:3}}),[0,1,2,3,4,5]));
  pts(ix,kSparse,'#7b5c9e',1.6,.75);
  pts(ix,kEdge,'#41246f',2,.9);
  polygonSeries(ix,kOuter,'#3c1a6c');
  polygonSeries(ix,kMid,'#34508c');
  polygonSeries(ix,kTeal,'#23908c');
  polygonSeries(ix,kGreen,'#58c765');
  pts(ix,kPeak,'#d8e219',2.6);
})();

barPanel(241.7,759,321,900.7,.5,lVals);
barPanel(349.3,760.7,429,903.3,.4,mVals);
barPanel(457.7,762.3,538.3,904.7,.4,nVals);
boxPanel(616,759.3,680,906,0,6,[0,2,4,6],oLow,oHigh);

// ---------- TEXT ----------
[['a',17,8],['b',264,8],['c',384,8],['d',628,10],['e',15,238],['f',264,238],['g',389,240],['h',6,468],['i',237,468],['j',478,468],['k',19,734],['l',207,734],['m',344,734],['n',448,734],['o',570,735]]
  .forEach(p=>txt(p[0],p[1],p[2],{size:19,color:'#111'}));

function legend(x1,x2,y){
  dot(x1,y,RED);txt('Low GSI',x1+6,y,{align:'left'});
  dot(x2,y,BLUE);txt('High GSI',x2+6,y,{align:'left'});
}
legend(116,177,45);legend(483,544,45);legend(52,190,275);
txt('GSI',140,195);txt('GSI',511,195);txt('GSI',137,428);
subName('Pre-mRNA level (Log','2','RPKM)',11,105,R90,12.7);
subName('Log','2','(gene length)',378,99,R90,12);
txt('Intron number',16,335,{rot:R90,size:12});
pval('p=2.81x10','-31',314,43);
pval('p=1.72x10','-88',663,41);
pval('p=8.37x10','-133',317,273);
pval('p=3.12x10','-9',647,772);

txt('Mean GSI',507.7,236.7);
txt('Mean 5´ss strength',112,492);
txt('Mean 3´ss strength',340,492);
txt('%GC exon/%GC intron ratio',581,496);
[[402,328],[7,587],[243,587],[484,587]].forEach(p=>txt('Gene length (decils)',p[0],p[1],{rot:R90,size:12}));
[[508,436],[112,691],[345,691],[587,691]].forEach(p=>txt('Pre-mRNA levels (decils)',p[0],p[1],{size:12}));

txt('Pearson coefficient = 0.4',105,750.7,{weight:'normal',size:12,color:'#333'});
txt('Observed GSI',5,832,{rot:R90,size:12});
txt('Predicted GSI',105,935,{size:12.5});
txt('Correlation',197,830,{rot:R90,size:12});
txt('coefficient',213,830,{rot:R90,size:12});
txt('All genes',280,771);txt('L1-L10',282,786);
txt('Short genes',389,771);txt('(L1-L2)',391,786);
txt('Long genes',498,771);txt('(L9-L10)',499,786);
txt('Steady state mRNA/pre-mRNA',590,838,{rot:R90});

const chart=echarts.init(document.getElementById('c'),null,{renderer:'canvas',width:712,height:982});
chart.setOption({animation:false,backgroundColor:'#fff',
  grid:grids,xAxis:xAxes,yAxis:yAxes,series:series,graphic:{elements:graphics},
  visualMap:{show:false,type:'continuous',min:0,max:13,seriesIndex:heatIdx,dimension:2,inRange:{color:palette}}
});
</script></body></html>
